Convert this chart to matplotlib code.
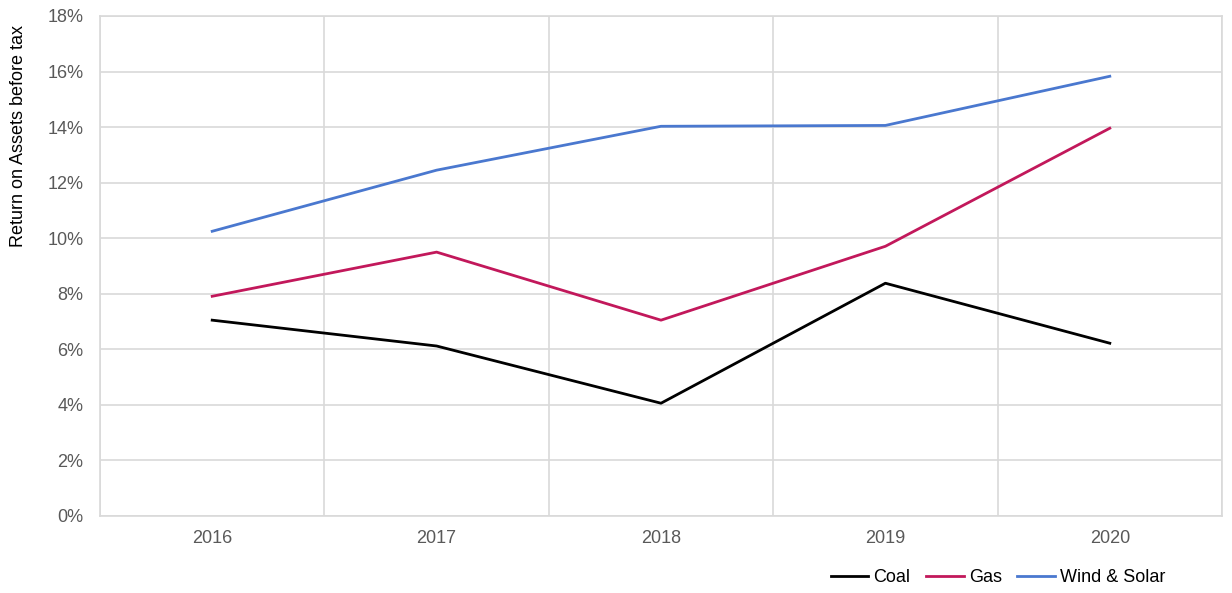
import matplotlib
matplotlib.use("Agg")
import matplotlib.pyplot as plt
from matplotlib.ticker import FuncFormatter, FixedLocator

years = ["2016", "2017", "2018", "2019", "2020"]
coal = [7.05, 6.12, 4.06, 8.38, 6.22]
gas = [7.91, 9.50, 7.05, 9.71, 13.96]
wind_solar = [10.25, 12.45, 14.03, 14.06, 15.83]

plt.rcParams['font.family'] = ['Liberation Sans', 'DejaVu Sans']

fig = plt.figure(figsize=(12.32, 5.93), dpi=100)
ax = fig.add_axes([100/1232, 1-516/593, 1122/1232, 500/593])

x = list(range(len(years)))
ax.plot(x, coal, color="#000000", lw=2, label="Coal")
ax.plot(x, gas, color="#C2185B", lw=2, label="Gas")
ax.plot(x, wind_solar, color="#4A78CF", lw=2, label="Wind & Solar")

ax.set_xlim(-0.5, len(years) - 0.5)
ax.set_ylim(0, 18)
ax.set_yticks(range(0, 19, 2))
ax.yaxis.set_major_formatter(FuncFormatter(lambda v, p: f"{int(v)}%"))
ax.set_xticks(x)
ax.set_xticklabels(years)
ax.xaxis.set_minor_locator(FixedLocator([i - 0.5 for i in range(len(years) + 1)]))

ax.grid(axis="y", which="major", color="#D9D9D9", lw=1.2)
ax.grid(axis="x", which="minor", color="#D9D9D9", lw=1.2)
ax.grid(axis="x", which="major", visible=False)
ax.set_axisbelow(True)
for s in ["top", "right", "left", "bottom"]:
    ax.spines[s].set_color("#D9D9D9")
    ax.spines[s].set_linewidth(1.2)

ax.tick_params(axis="both", which="both", length=0, labelsize=13, labelcolor="#595959")
ax.tick_params(axis="x", pad=10)
ax.tick_params(axis="y", pad=12)
ax.set_ylabel("Return on Assets before tax", fontsize=13, color="#000000")
ax.yaxis.set_label_coords(-81/1122, 1 - 9/500)
ax.yaxis.label.set_va("center")
ax.yaxis.label.set_ha("right")
ax.yaxis.label.set_rotation_mode("anchor")

leg = fig.legend(loc="center", bbox_to_anchor=(998/1232, 1-578/593), ncol=3, frameon=False,
                 fontsize=13, handlelength=2.1, handletextpad=0.28, columnspacing=0.85,
                 borderpad=0, borderaxespad=0)

fig.savefig("out.png", dpi=100)
